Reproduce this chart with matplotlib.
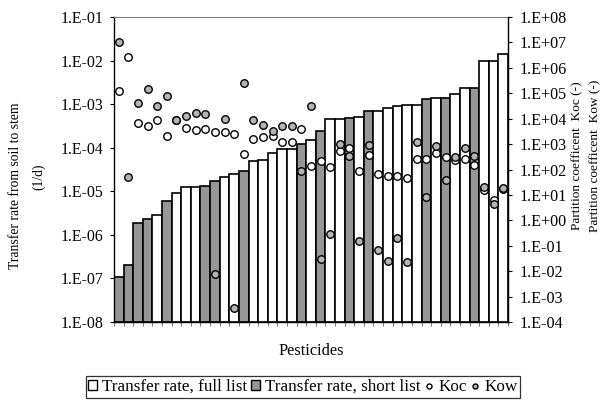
import numpy as np
import matplotlib.pyplot as plt
from matplotlib.lines import Line2D
from matplotlib.patches import Patch
from matplotlib.ticker import LogLocator, FuncFormatter, FixedLocator

plt.rcParams['font.family'] = ['Liberation Serif', 'DejaVu Serif']

# Transfer rate from soil to stem (1/d), sorted ascending; 'S' = short list, 'F' = full list only
rate = [1.0e-7, 1.9e-7, 1.9e-6, 2.3e-6, 2.9e-6, 5.9e-6, 9.3e-6, 1.23e-5, 1.23e-5, 1.35e-5,
        1.7e-5, 2.1e-5, 2.5e-5, 2.9e-5, 4.9e-5, 5.2e-5, 7.7e-5, 9.1e-5, 9.5e-5, 1.22e-4,
        1.5e-4, 2.4e-4, 4.5e-4, 4.5e-4, 4.9e-4, 5.2e-4, 7.1e-4, 7.1e-4, 8.2e-4, 8.9e-4,
        9.4e-4, 9.4e-4, 1.29e-3, 1.38e-3, 1.38e-3, 1.71e-3, 2.35e-3, 2.35e-3, 1.0e-2, 1.0e-2,
        1.39e-2]
group = ['S', 'S', 'S', 'S', 'F', 'S', 'F', 'F', 'F', 'S',
         'S', 'F', 'F', 'S', 'F', 'F', 'F', 'F', 'F', 'S',
         'F', 'S', 'F', 'F', 'S', 'F', 'S', 'F', 'F', 'F',
         'F', 'F', 'S', 'F', 'S', 'F', 'F', 'S', 'F', 'F',
         'F']

# Partition coefficients for the same pesticides
koc = [1.2e5, 2.7e6, 6.6e3, 5.0e3, 8.9e3, 2.0e3, 8.7e3, 4.4e3, 3.5e3, 3.9e3,
       3.1e3, 3.1e3, 2.4e3, 4.2e2, 1.6e3, 1.85e3, 2.0e3, 1.2e3, 1.2e3, 4.1e3,
       1.4e2, 2.2e2, 1.2e2, 5.5e2, 7.3e2, 91, 3.7e2, 69, 54, 54,
       46, 2.6e2, 2.6e2, 4.5e2, 3.1e2, 2.4e2, 2.7e2, 1.5e2, 15, 6.6,
       17]
kow = [1.0e7, 51, 4.1e4, 1.5e5, 3.2e4, 7.8e4, 9.1e3, 1.3e4, 1.67e4, 1.5e4,
       7.6e-3, 1.0e4, 3.7e-4, 2.5e5, 8.7e3, 5.8e3, 3.2e3, 5.2e3, 5.2e3, 87,
       3.2e4, 0.029, 0.28, 1.05e3, 3.3e2, 0.15, 9.5e2, 0.071, 0.025, 0.2,
       0.022, 1.26e3, 8.6, 8.2e2, 40, 3.1e2, 7.3e2, 3.4e2, 20, 4.3,
       19.5]

GRAY_BAR = '#969696'
GRAY_DOT = '#b4b4b4'
W, H = 616, 403

fig = plt.figure(figsize=(6.16, 4.03), dpi=100)
ax = fig.add_axes([114 / W, 1 - 322 / H, 394 / W, 305 / H])

x = np.arange(len(rate))
colors = [GRAY_BAR if g == 'S' else 'white' for g in group]
ax.bar(x, rate, width=1.0, bottom=1e-8, color=colors, edgecolor='black', linewidth=1.2, zorder=2)

ax.set_yscale('log')
ax.set_ylim(1e-8, 1e-1)
ax.set_xlim(-0.5, len(rate) - 0.5)

sci = FuncFormatter(lambda v, p: '1.E%+03d' % int(round(np.log10(v))))
ax.yaxis.set_major_locator(LogLocator(base=10, numticks=20))
ax.yaxis.set_minor_locator(plt.NullLocator())
ax.yaxis.set_major_formatter(sci)
ax.tick_params(axis='y', labelsize=11.4, length=3, width=0.8, direction='out', pad=4.5)

ax.xaxis.set_major_locator(FixedLocator(np.arange(len(rate) + 1) - 0.5))
ax.tick_params(axis='x', length=3, width=0.8, color='#808080', labelbottom=False)

ax.spines['top'].set_color('#808080')
ax.spines['right'].set_visible(False)
ax.spines['left'].set_linewidth(1.0)
ax.spines['bottom'].set_linewidth(1.0)

fig.text(311 / W, 1 - 351 / H, 'Pesticides', fontsize=11.7, ha='center', va='center')
fig.text(16 / W, 1 - 186 / H, 'Transfer rate from soil to stem', rotation=90, fontsize=9.8,
         ha='center', va='center')
fig.text(38.5 / W, 1 - 177 / H, '(1/d)', rotation=90, fontsize=9.8, ha='center', va='center')

# Koc / Kow on the secondary axis
ax2 = ax.twinx()
ax2.set_yscale('log')
ax2.set_ylim(1e-4, 1e8)
ax2.yaxis.set_major_locator(LogLocator(base=10, numticks=20))
ax2.yaxis.set_minor_locator(plt.NullLocator())
ax2.yaxis.set_major_formatter(sci)
ax2.tick_params(axis='y', labelsize=11.6, length=3, width=0.8, direction='out', pad=5.5)
for s in ['top', 'left', 'bottom']:
    ax2.spines[s].set_visible(False)
ax2.spines['right'].set_linewidth(1.0)

ax2.plot(x, koc, 'o', ms=5.4, mfc='white', mec='black', mew=1.0, zorder=3)
ax2.plot(x, kow, 'o', ms=5.4, mfc=GRAY_DOT, mec='black', mew=1.0, zorder=3)

fig.text(577 / W, 1 - 156 / H, 'Partition coefficent  Koc (-)', rotation=90, fontsize=9.6,
         ha='center', va='center')
fig.text(595 / W, 1 - 156 / H, 'Partition coefficent  Kow (-)', rotation=90, fontsize=9.6,
         ha='center', va='center')

handles = [
    Patch(facecolor='white', edgecolor='black', linewidth=1.0),
    Patch(facecolor=GRAY_BAR, edgecolor='black', linewidth=1.0),
    Line2D([], [], ls='none', marker='o', ms=3.6, mfc='white', mec='black', mew=1.0),
    Line2D([], [], ls='none', marker='o', ms=3.6, mfc=GRAY_DOT, mec='black', mew=1.0),
]
labels = ['Transfer rate, full list', 'Transfer rate, short list', 'Koc', 'Kow']
leg = fig.legend(handles, labels, loc='center', bbox_to_anchor=(303 / W, 1 - 387 / H),
                 ncol=4, fontsize=12.3, frameon=True, fancybox=False, handlelength=0.5,
                 handleheight=0.5, handletextpad=0.3, columnspacing=0.25, borderpad=0.15,
                 borderaxespad=0)
leg.get_frame().set_edgecolor('black')
leg.get_frame().set_linewidth(0.9)

fig.savefig('out.png', dpi=100)
